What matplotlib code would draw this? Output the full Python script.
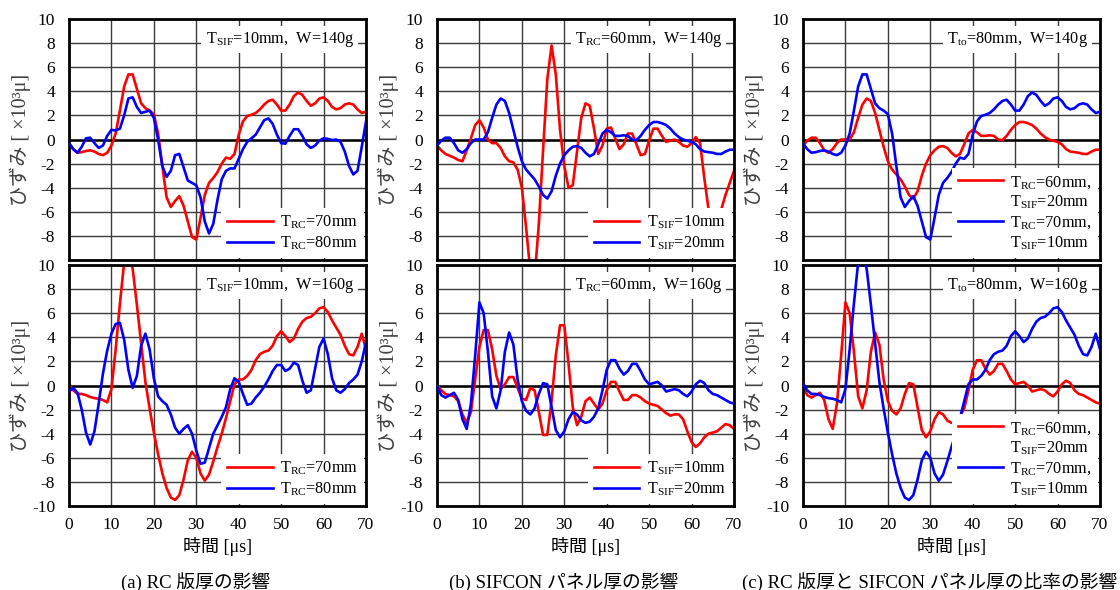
import numpy as np
import matplotlib
matplotlib.use("Agg")
import matplotlib.pyplot as plt
from matplotlib.lines import Line2D

plt.rcParams['font.family'] = ['Liberation Serif', 'Noto Sans CJK JP']
plt.rcParams['mathtext.fontset'] = 'custom'
plt.rcParams['mathtext.rm'] = 'Liberation Serif'
plt.rcParams['mathtext.it'] = 'Liberation Serif:italic'
plt.rcParams['mathtext.bf'] = 'Liberation Serif:bold'

# ---------------- data (time in microseconds, strain in x10^3 micro) ----------------
t = np.arange(0, 71, 1)

# (a) W=140g, T_SIF=10mm
a140_rc70 = [-0.3, -0.8, -1.1, -1.05, -0.95, -0.9, -1.0, -1.2, -1.3, -1.1,
             -0.5, 0.5, 2.4, 4.4, 5.4, 5.4, 4.2, 3.0, 2.6, 2.4,
             2.1, 0.5, -2.2, -4.8, -5.6, -5.1, -4.7, -5.5, -6.8, -8.1,
             -8.3, -6.5, -4.6, -3.6, -3.2, -2.7, -2.0, -1.5, -1.6, -1.2,
             0.4, 1.5, 1.95, 2.05, 2.2, 2.5, 2.9, 3.2, 3.3, 2.9,
             2.4, 2.4, 2.9, 3.6, 3.9, 3.7, 3.2, 2.8, 3.0, 3.4,
             3.5, 3.2, 2.7, 2.5, 2.6, 2.9, 3.0, 2.9, 2.5, 2.2,
             2.3]
a140_rc80 = [-0.3, -0.8, -1.1, -0.6, 0.1, 0.15, -0.3, -0.7, -0.5, 0.3,
             0.8, 0.75, 0.9, 2.0, 3.4, 3.5, 2.7, 2.2, 2.3, 2.4,
             1.8, 0.0, -2.2, -3.1, -2.6, -1.3, -1.2, -2.3, -3.4, -3.6,
             -3.8, -4.8, -6.8, -7.8, -7.0, -5.0, -3.3, -2.6, -2.4, -2.4,
             -1.6, -0.8, -0.2, 0.1, 0.4, 1.0, 1.6, 1.75, 1.3, 0.4,
             -0.3, -0.35, 0.3, 0.85, 0.85, 0.3, -0.4, -0.7, -0.5, -0.1,
             0.1, 0.05, -0.05, 0.0, -0.2, -1.0, -2.2, -2.9, -2.6, -0.6,
             1.5]
# (a) W=160g, T_SIF=10mm
a160_rc70 = [0.2, -0.4, -0.7, -0.7, -0.8, -0.95, -1.05, -1.1, -1.2, -1.4,
             -0.3, 3.0, 6.8, 10.2, 11.0, 9.7, 6.7, 3.5, 0.3, -1.9,
             -3.9, -5.7, -7.3, -8.5, -9.3, -9.5, -9.1, -7.8, -6.2, -5.5,
             -6.0, -7.3, -7.9, -7.4, -6.3, -5.1, -4.0, -2.7, -1.3, 0.1,
             0.5, 0.5, 0.8, 1.3, 2.1, 2.6, 2.8, 2.9, 3.3, 4.1,
             4.5, 4.1, 3.6, 3.9, 4.7, 5.3, 5.6, 5.7, 6.0, 6.4,
             6.5, 6.1, 5.4, 4.8, 4.2, 3.3, 2.6, 2.5, 3.2, 4.3,
             3.0]
a160_rc80 = [-0.5, -0.2, -0.6, -2.0, -3.9, -4.9, -3.8, -1.5, 1.0, 2.9,
             4.3, 5.1, 5.2, 3.8, 1.3, -0.2, 0.8, 3.3, 4.3, 3.0,
             0.6, -0.9, -1.3, -1.6, -2.4, -3.5, -4.0, -3.6, -3.3, -4.0,
             -5.4, -6.5, -6.4, -5.2, -4.0, -3.3, -2.6, -1.8, -0.3, 0.6,
             0.3, -0.7, -1.6, -1.5, -1.0, -0.6, -0.1, 0.5, 1.2, 1.7,
             1.7, 1.2, 1.4, 1.9, 1.7, 0.4, -0.6, -0.4, 1.4, 3.2,
             3.9, 2.6, 0.6, -0.4, -0.6, -0.3, 0.2, 0.5, 0.9, 2.0,
             3.6]
# (b) W=140g, T_RC=60mm
b140_sif10 = [-0.5, -0.9, -1.2, -1.35, -1.5, -1.7, -1.8, -0.9, 0.1, 1.2,
              1.6, 1.0, 0.0, -0.3, -0.3, -0.7, -1.4, -1.8, -1.9, -2.5,
              -4.0, -7.3, -11.0, -11.5, -7.0, -0.9, 5.0, 7.8, 5.4, 0.8,
              -2.2, -4.0, -3.8, -1.0, 1.8, 3.0, 2.8, 0.9, -1.2, -0.5,
              0.9, 1.0, 0.1, -0.8, -0.4, 0.5, 0.5, -0.4, -1.3, -1.2,
              -0.1, 0.9, 0.9, 0.3, -0.2, -0.1, 0.0, -0.2, -0.5, -0.6,
              -0.3, 0.2, -0.3, -3.2, -5.8, -6.5, -6.6, -5.8, -4.6, -3.6,
              -2.6]
b140_sif20 = [-0.5, -0.1, 0.15, 0.15, -0.3, -0.9, -1.1, -0.8, -0.3, 0.0,
              0.0, 0.0, 0.6, 1.8, 2.9, 3.4, 3.2, 2.2, 0.8, -0.6,
              -1.8, -2.5, -2.9, -3.3, -3.9, -4.6, -4.9, -4.3, -3.0, -2.0,
              -1.3, -0.9, -0.6, -0.55, -0.7, -1.1, -1.4, -1.2, -0.4, 0.5,
              0.8, 0.6, 0.3, 0.3, 0.35, 0.3, 0.0, -0.05, 0.3, 0.8,
              1.2, 1.45, 1.45, 1.35, 1.2, 0.9, 0.5, 0.2, 0.0, -0.1,
              -0.2, -0.4, -0.8, -1.0, -1.05, -1.1, -1.2, -1.2, -1.0, -0.85,
              -0.85]
# (b) W=160g, T_RC=60mm
b160_sif10 = [0.1, -0.4, -0.7, -0.8, -0.9, -1.3, -2.4, -3.1, -2.2, 0.5,
              3.2, 4.6, 4.6, 3.0, 0.8, -0.3, 0.1, 0.7, 0.7, -0.2,
              -1.1, -1.2, -0.2, -0.4, -2.2, -4.1, -4.1, -1.3, 2.5, 5.0,
              5.0, 1.8, -1.8, -3.3, -2.6, -1.3, -1.0, -1.5, -2.0, -1.5,
              -0.4, 0.3, 0.3, -0.5, -1.2, -1.2, -0.8, -0.8, -1.0, -1.3,
              -1.5, -1.6, -1.7, -2.0, -2.3, -2.5, -2.4, -2.4, -2.8, -3.8,
              -4.7, -5.1, -4.8, -4.3, -4.0, -3.9, -3.8, -3.5, -3.2, -3.3,
              -3.6]
b160_sif20 = [0.0, -0.8, -1.0, -0.8, -0.6, -1.2, -2.8, -3.6, -1.5, 2.5,
              6.9, 6.0, 2.8, -0.9, -1.9, -0.4, 2.8, 4.4, 3.4, 0.5,
              -1.3, -2.1, -2.4, -1.9, -0.7, 0.2, 0.1, -1.8, -3.7, -4.3,
              -3.8, -2.8, -2.2, -2.4, -2.9, -3.1, -3.0, -2.6, -1.9, -0.4,
              1.3, 2.1, 2.1, 1.4, 0.9, 1.2, 1.8, 1.8, 1.2, 0.5,
              0.1, 0.2, 0.3, 0.0, -0.5, -0.4, -0.3, -0.4, -0.7, -0.9,
              -0.5, 0.1, 0.4, 0.2, -0.4, -0.7, -0.8, -1.0, -1.2, -1.4,
              -1.5]

xticks = [0, 10, 20, 30, 40, 50, 60, 70]
yticks = [-10, -8, -6, -4, -2, 0, 2, 4, 6, 8, 10]

lab_rc70 = [r'T$_{\mathrm{RC}}$=70mm']
lab_rc80 = [r'T$_{\mathrm{RC}}$=80mm']
lab_sif10 = [r'T$_{\mathrm{SIF}}$=10mm']
lab_sif20 = [r'T$_{\mathrm{SIF}}$=20mm']
lab_c1 = [r'T$_{\mathrm{RC}}$=60mm,', r'T$_{\mathrm{SIF}}$=20mm']
lab_c2 = [r'T$_{\mathrm{RC}}$=70mm,', r'T$_{\mathrm{SIF}}$=10mm']

panels = [
    # col, row, red series, red label, blue series, blue label, annotation
    (0, 0, a140_rc70, lab_rc70, a140_rc80, lab_rc80, r'T$_{\mathrm{SIF}}$=10mm,  W=140g'),
    (0, 1, a160_rc70, lab_rc70, a160_rc80, lab_rc80, r'T$_{\mathrm{SIF}}$=10mm,  W=160g'),
    (1, 0, b140_sif10, lab_sif10, b140_sif20, lab_sif20, r'T$_{\mathrm{RC}}$=60mm,  W=140g'),
    (1, 1, b160_sif10, lab_sif10, b160_sif20, lab_sif20, r'T$_{\mathrm{RC}}$=60mm,  W=160g'),
    (2, 0, b140_sif20, lab_c1, a140_rc70, lab_c2, r'T$_{\mathrm{to}}$=80mm,  W=140g'),
    (2, 1, b160_sif20, lab_c1, a160_rc70, lab_c2, r'T$_{\mathrm{to}}$=80mm,  W=160g'),
]
captions = ['(a) RC 版厚の影響', '(b) SIFCON パネル厚の影響',
            '(c) RC 版厚と SIFCON パネル厚の比率の影響']

W, H = 1120, 590
fig = plt.figure(figsize=(W / 100, H / 100), dpi=100)

col_left = [69, 437, 803]
ax_w = 297
row_top = [19, 265]
ax_h = 241
FS = 12.5
FS_LEG = 11.7
RED, BLUE = '#ff0000', '#0000ff'
LW = 1.9

for col, row, red, rlab, blue, blab, note in panels:
    l = col_left[col] / W
    b = 1 - (row_top[row] + ax_h) / H
    ax = fig.add_axes([l, b, ax_w / W, ax_h / H])
    ax.set_xlim(0, 70)
    ax.set_ylim(-10, 10)
    ax.set_xticks(xticks)
    ax.set_yticks(yticks)
    ax.grid(True, color='#3c3c3c', linewidth=1.0, zorder=0)
    ax.set_axisbelow(True)
    ax.axhline(0, color='black', linewidth=1.8, zorder=1)
    lr, = ax.plot(t, red, color=RED, linewidth=LW, zorder=2)
    lb, = ax.plot(t, blue, color=BLUE, linewidth=LW, zorder=3)
    for s in ax.spines.values():
        s.set_linewidth(2.0)
        s.set_color('black')
    ax.tick_params(length=0, labelsize=FS, pad=10)
    ax.tick_params(axis='x', pad=8)
    if row == 0:
        ax.set_xticklabels([])
        ax.set_yticklabels(['' if v == -10 else str(v) for v in yticks])
    else:
        ax.set_yticklabels([str(v) for v in yticks])
        ax.set_xlabel('時間 [μs]', fontsize=13, labelpad=3)
    ax.text(-49 / ax_w, 0.5, 'ひずみ [ ×10³μ]', transform=ax.transAxes,
            rotation=90, ha='center', va='center', fontsize=14.5, color='#404040')
    ax.text(0.96, 0.915, note, transform=ax.transAxes, ha='right', va='center',
            fontsize=FS_LEG, zorder=6,
            bbox=dict(facecolor='white', edgecolor='none', pad=3))
    # legend entries: a blank handle continues a two-line label
    blank = Line2D([], [], color='none')
    handles = [lr] + [blank] * (len(rlab) - 1) + [lb] + [blank] * (len(blab) - 1)
    labels = rlab + blab
    leg = ax.legend(handles, labels, loc='lower right', bbox_to_anchor=(1.0, 0.0),
                    fontsize=FS_LEG, frameon=True, fancybox=False, framealpha=1,
                    edgecolor='none', facecolor='white', handlelength=2.8,
                    handletextpad=0.45, labelspacing=0.2, borderpad=0.35,
                    borderaxespad=0.15)
    leg.set_zorder(6)

for col, cap in enumerate(captions):
    cx = (col_left[col] + ax_w / 2 - 22) / W
    fig.text(cx, 1 - 582 / H, cap, ha='center', va='center', fontsize=13.5)

fig.savefig('out.png', dpi=100)
